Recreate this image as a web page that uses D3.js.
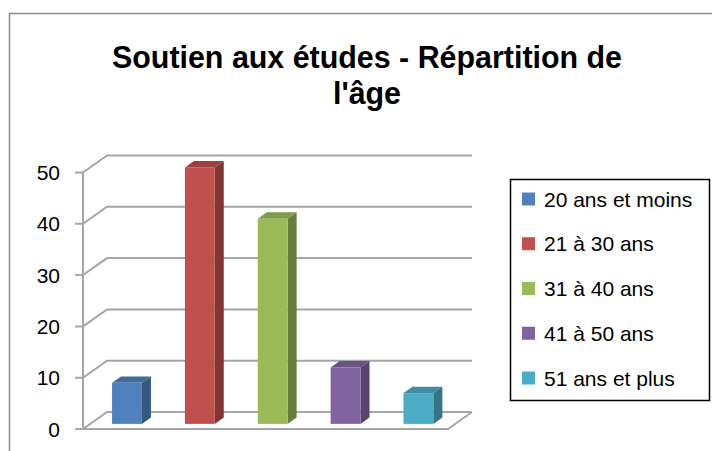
<!DOCTYPE html>
<html>
<head>
<meta charset="utf-8">
<script src="https://cdn.jsdelivr.net/npm/d3@7"></script>
<style>
body{margin:0;background:#fff;}
text{font-family:"Liberation Sans",Arial,sans-serif;fill:#000;}
</style>
</head>
<body>
<div id="chart"></div>
<script>
var width = 712,
    height = 451;

// data
var categories = ["20 ans et moins","21 à 30 ans","31 à 40 ans","41 à 50 ans","51 ans et plus"]
var values = [8, 50, 40, 11, 6]
var colors = ["#4F81BD","#C0504D","#9BBB59","#8064A2","#4BACC6"]
var yTicks = [0, 10, 20, 30, 40, 50]
var titleLines = ["Soutien aux études - Répartition de", "l'âge"]

var svg = d3.select("#chart")
    .append("svg")
    .attr("width", width)
    .attr("height", height)

// outer chart frame
svg.append("rect")
    .attr("x", 9.5).attr("y", 13.5)
    .attr("width", 800).attr("height", 500)
    .attr("fill", "none")
    .attr("stroke", "#8c8c8c")
    .attr("stroke-width", 1.5)

// title
svg.selectAll(".title")
    .data(titleLines)
    .enter().append("text")
    .attr("class", "title")
    .attr("x", 367)
    .attr("y", function(d, i){ return 68 + i*36 })
    .attr("text-anchor", "middle")
    .attr("font-size", 31)
    .attr("font-weight", "bold")
    .attr("textLength", function(d, i){ return i === 0 ? 510 : 68 })
    .attr("lengthAdjust", "spacingAndGlyphs")
    .text(function(d){ return d })

// 3d geometry
var depthX = 24, depthY = -17
var x = d3.scaleBand().domain(categories).range([83, 448]).paddingInner(0.59).paddingOuter(0.3)
var y = d3.scaleLinear().domain([0, 50]).range([429, 172.5])

var grid = svg.append("g")
    .attr("stroke", "#a6a6a6")
    .attr("stroke-width", 2)
    .attr("fill", "none")

yTicks.forEach(function(t){
    grid.append("path")
        .attr("d", "M75," + y(t) + "L83," + y(t) + "L" + (83+depthX) + "," + (y(t)+depthY) + "L" + (448+depthX) + "," + (y(t)+depthY))
})
// front axis and floor
grid.append("path")
    .attr("d", "M83," + y(50) + "L83," + y(0) + "L448," + y(0) + "L" + (448+depthX) + "," + (y(0)+depthY))

// y tick labels
svg.selectAll(".ytick")
    .data(yTicks)
    .enter().append("text")
    .attr("class", "ytick")
    .attr("x", 60)
    .attr("y", function(d){ return y(d) + 7.5 })
    .attr("text-anchor", "end")
    .attr("font-size", 21)
    .text(function(d){ return d })

// bars: front face sits 0.3 of the depth, bar depth 0.375
var f0 = 0.3, fd = 0.375
var ox = depthX*f0, oy = depthY*f0
var bx = depthX*fd, by = depthY*fd

var bars = svg.selectAll(".bar")
    .data(values)
    .enter().append("g")
    .attr("class", "bar")

bars.append("path")   // side
    .attr("fill", function(d, i){ return d3.color(colors[i]).darker(1.1) })
    .attr("d", function(d, i){
        var x1 = x(categories[i]) + ox + x.bandwidth(), yt = y(d) + oy, yb = y(0) + oy
        return "M" + x1 + "," + yb + "L" + x1 + "," + yt + "L" + (x1+bx) + "," + (yt+by) + "L" + (x1+bx) + "," + (yb+by) + "Z"
    })
bars.append("path")   // top
    .attr("fill", function(d, i){ return d3.color(colors[i]).darker(0.55) })
    .attr("d", function(d, i){
        var x0 = x(categories[i]) + ox, x1 = x0 + x.bandwidth(), yt = y(d) + oy
        return "M" + x0 + "," + yt + "L" + (x0+bx) + "," + (yt+by) + "L" + (x1+bx) + "," + (yt+by) + "L" + x1 + "," + yt + "Z"
    })
bars.append("rect")   // front
    .attr("fill", function(d, i){ return colors[i] })
    .attr("x", function(d, i){ return x(categories[i]) + ox })
    .attr("y", function(d){ return y(d) + oy })
    .attr("width", x.bandwidth())
    .attr("height", function(d){ return y(0) - y(d) })

// legend
var legend = svg.append("g")
legend.append("rect")
    .attr("x", 510.5).attr("y", 179.5)
    .attr("width", 199).attr("height", 221)
    .attr("fill", "#fff")
    .attr("stroke", "#000")
    .attr("stroke-width", 1.5)

var items = legend.selectAll(".item")
    .data(categories)
    .enter().append("g")
    .attr("class", "item")
    .attr("transform", function(d, i){ return "translate(0," + (199 + i*44.75) + ")" })
items.append("rect")
    .attr("x", 522).attr("y", -6.5)
    .attr("width", 13).attr("height", 13)
    .attr("fill", function(d, i){ return colors[i] })
items.append("text")
    .attr("x", 544)
    .attr("y", 7.5)
    .attr("font-size", 21)
    .text(function(d){ return d })
</script>
</body>
</html>
